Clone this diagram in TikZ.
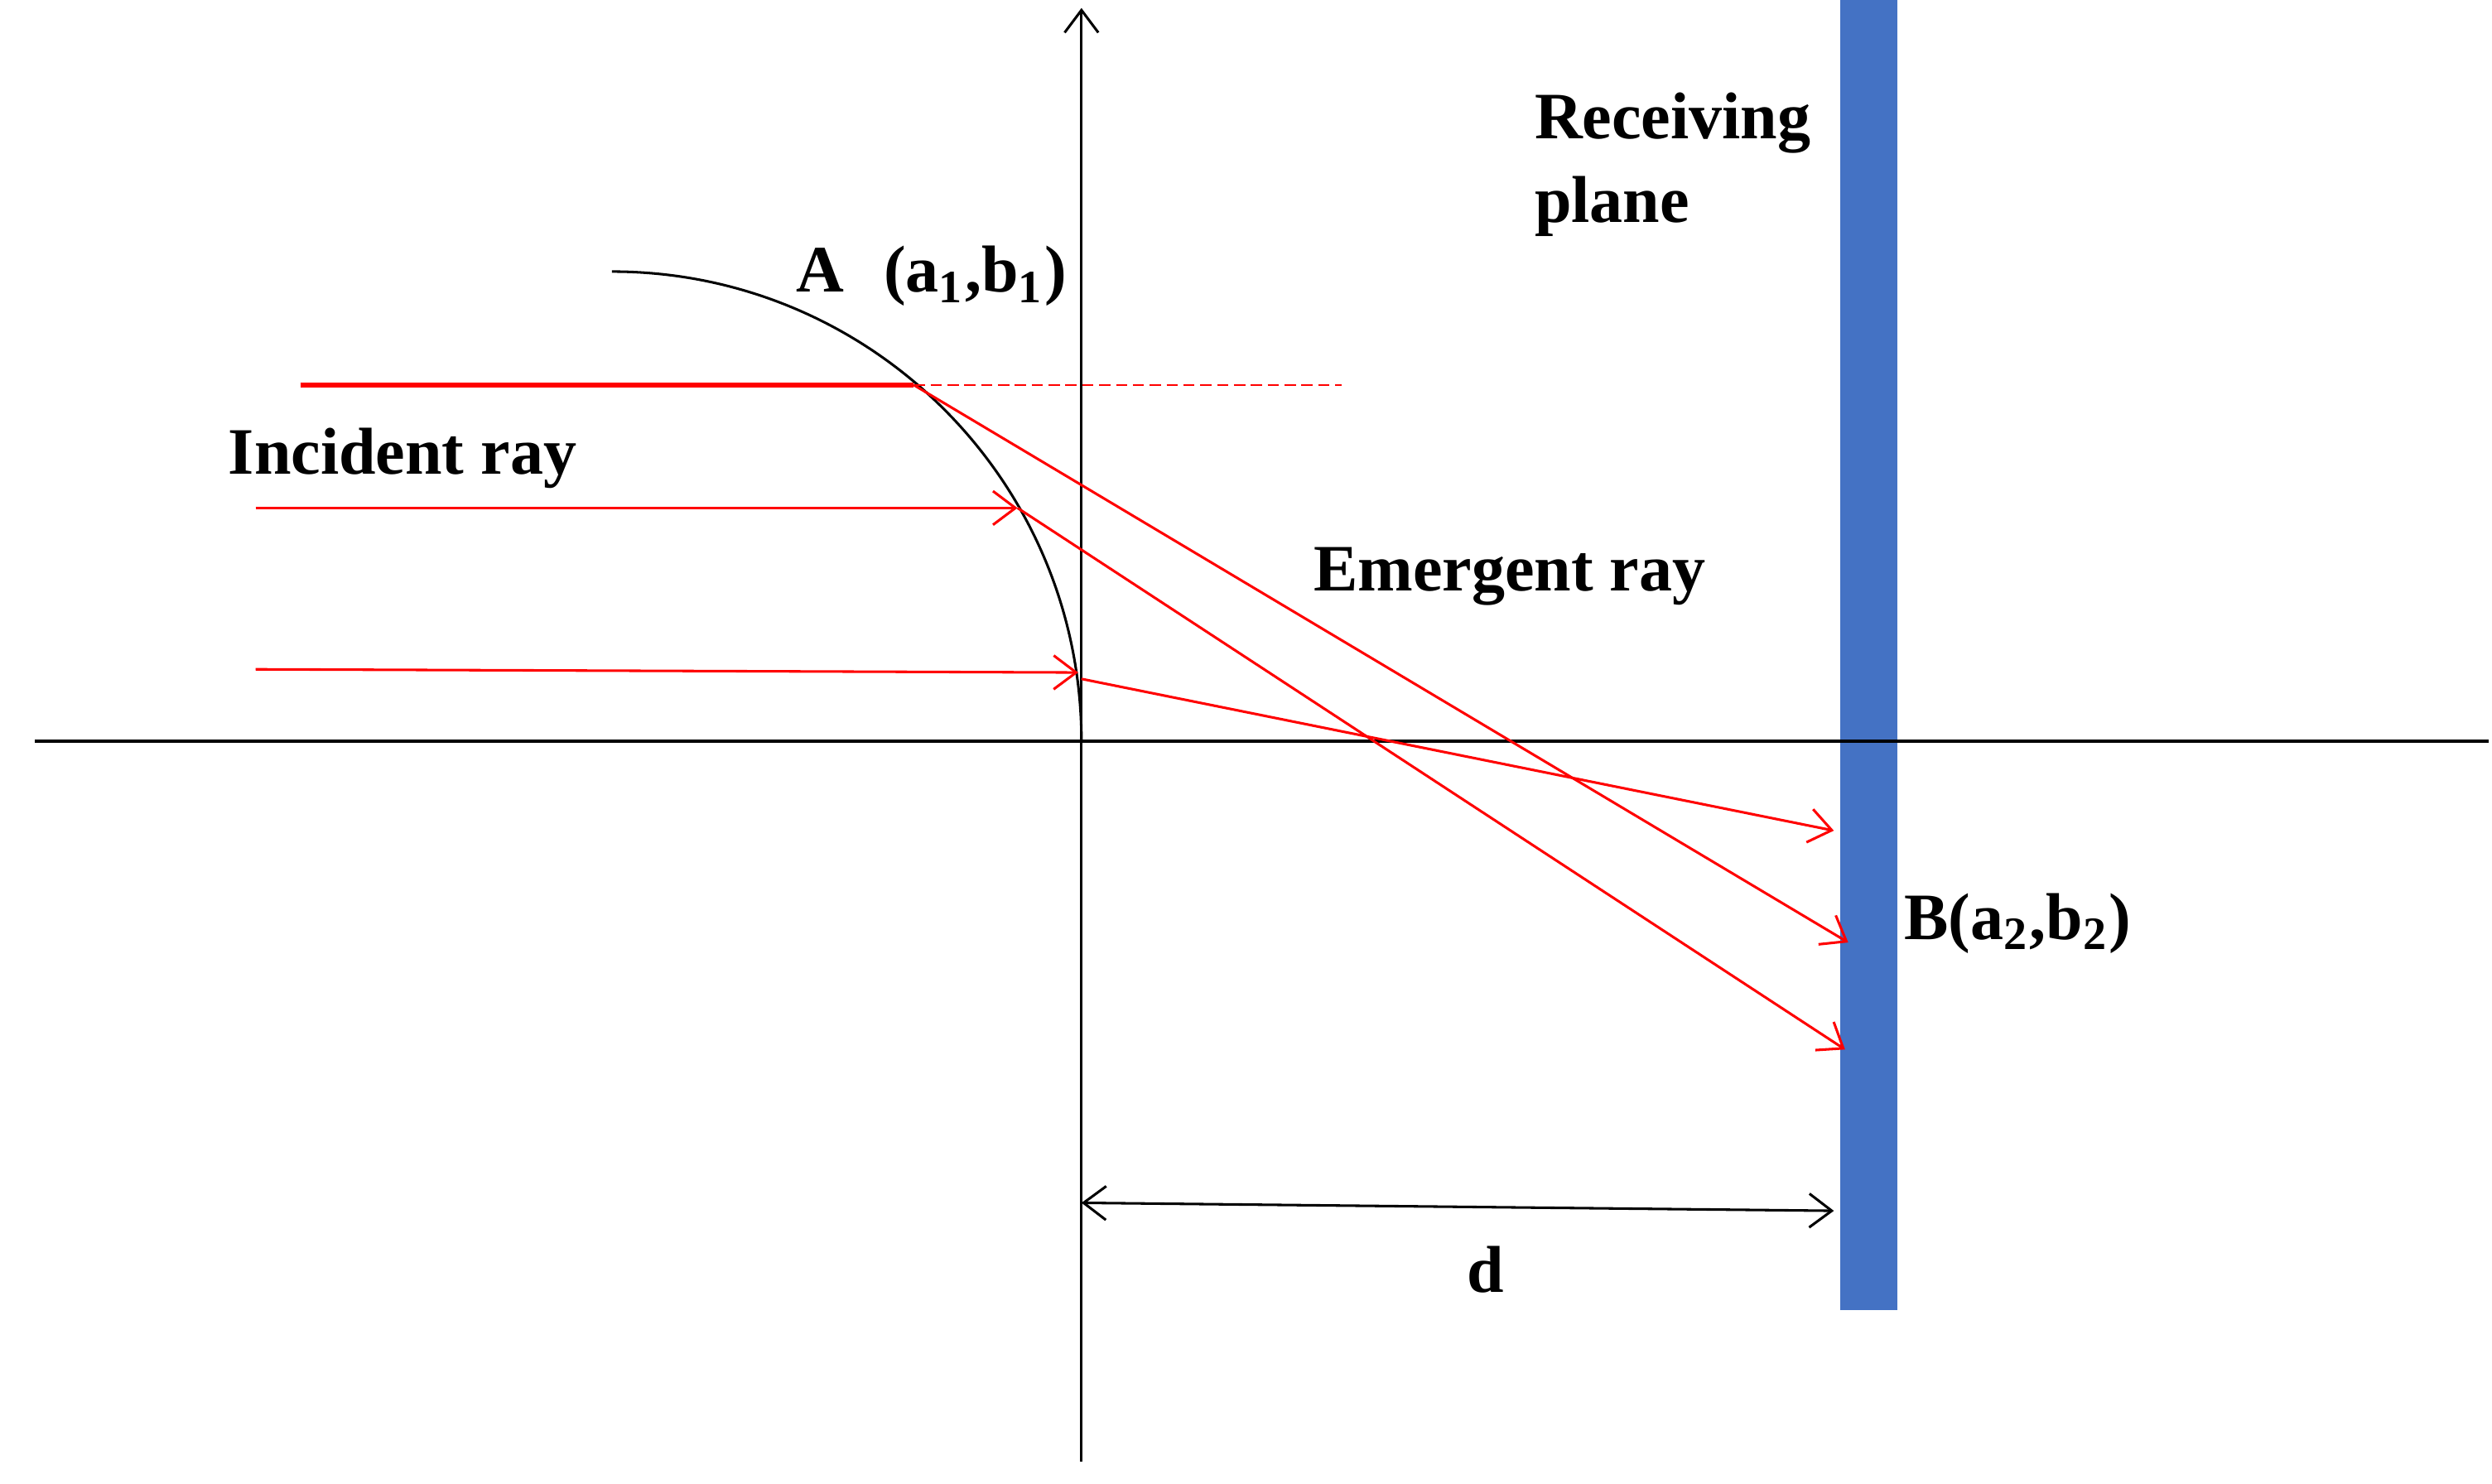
\documentclass[tikz,border=0pt]{standalone}
\usepackage{fontspec}
\setmainfont{Liberation Serif}
\usetikzlibrary{arrows.meta}
\definecolor{planeblue}{HTML}{4472C4}
\begin{document}
\begin{tikzpicture}[x=0.01cm,y=-0.01cm,
  ax/.style={black,line width=0.45pt},
  ray/.style={red,line width=0.45pt},
  tip/.style={-{Straight Barb[length=4pt,width=6pt]}},
  lbl/.style={font=\fontsize{11.8pt}{14pt}\selectfont\bfseries,inner sep=0pt}]
\useasboundingbox (0,0) rectangle (1560,929);
\fill[planeblue] (1152,0) rectangle (1188,820);
\coordinate (yb) at (677,915); \coordinate (yt) at (677,5);
\coordinate (xl) at (22,464); \coordinate (xr) at (1558,464);
\draw[ax,tip] (yb) -- (yt);
\draw[ax] (xl) -- (xr);
\draw[ax] (383,170) arc[start angle=-90,end angle=0,radius=294];
% rays
\coordinate (s1) at (188,241); \coordinate (p1) at (572,241); \coordinate (q1) at (840,241); \coordinate (e1) at (1157,590);
\coordinate (s2) at (160,318); \coordinate (p2) at (637,318); \coordinate (e2) at (1155,657);
\coordinate (s3) at (160,419); \coordinate (p3) at (675,421); \coordinate (p3b) at (677,425); \coordinate (e3) at (1148,520);
\draw[red,line width=0.9pt] (s1) -- (p1);
\draw[red,line width=0.3pt,dashed,dash pattern=on 2pt off 1pt] (p1) -- (q1);
\draw[ray,tip] (p1) -- (e1);
\draw[ray,tip] (s2) -- (p2);
\draw[ray,tip] (p2) -- (e2);
\draw[ray,tip] (s3) -- (p3);
\draw[ray,tip] (p3b) -- (e3);
\coordinate (d1) at (677,753); \coordinate (d2) at (1148,758);
\draw[ax,{Straight Barb[length=4pt,width=6pt]}-{Straight Barb[length=4pt,width=6pt]}] (d1) -- (d2);
% labels
\node[lbl,anchor=west,align=left] (rp) at (960,103) {Receiving\\[1pt]plane};
\node[lbl] (A) at (583,173) {A\hspace{0.6em}(a$_{\mathbf 1}$,b$_{\mathbf 1}$)};
\node[lbl] (inc) at (252,287) {Incident ray};
\node[lbl] (em) at (945,361) {Emergent ray};
\node[lbl] (B) at (1263,578) {B(a$_{\mathbf 2}$,b$_{\mathbf 2}$)};
\node[lbl] (d) at (930,795) {d};
\end{tikzpicture}
\end{document}
